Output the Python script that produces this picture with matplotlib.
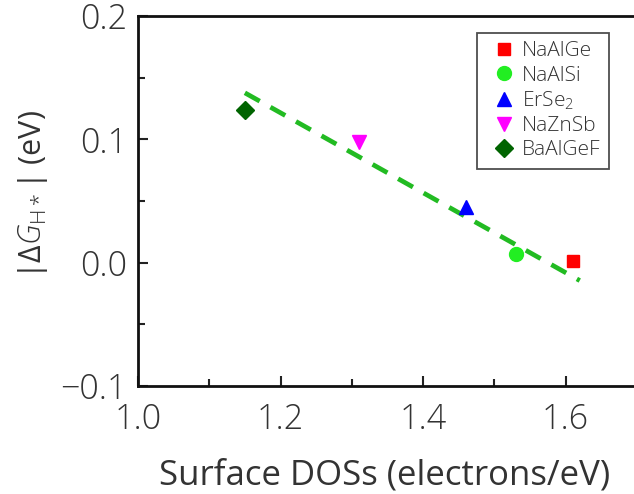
import matplotlib
matplotlib.use("Agg")
import matplotlib.pyplot as plt

plt.rcParams['font.family'] = ['Open Sans', 'DejaVu Sans']
plt.rcParams['font.weight'] = 'light'
plt.rcParams['mathtext.fontset'] = 'custom'
plt.rcParams['mathtext.rm'] = 'Open Sans:light'
plt.rcParams['mathtext.it'] = 'Open Sans:italic:light'

# Data
materials = ['NaAlGe', 'NaAlSi', 'ErSe$_2$', 'NaZnSb', 'BaAlGeF']
dos = [1.61, 1.53, 1.46, 1.31, 1.15]
dG = [0.001, 0.007, 0.045, 0.098, 0.124]
markers = ['s', 'o', '^', 'v', 'D']
colors = ['#FF0000', '#22EE22', '#0000FF', '#FF00FF', '#006400']
msizes = [9, 10, 10, 10, 9]

fit_x = [1.15, 1.62]
fit_y = [0.1377, -0.0145]

xticks = [1.0, 1.2, 1.4, 1.6]
yticks = [-0.1, 0.0, 0.1, 0.2]

fig = plt.figure(figsize=(6.34, 4.94), dpi=100)
ax = fig.add_axes([138/634, 1-386/494, 570/634, 370/494])

ax.plot(fit_x, fit_y, color='#22BB22', lw=3.4, dashes=(3.6, 2.6), zorder=2)
for m, x, y, mk, c, s in zip(materials, dos, dG, markers, colors, msizes):
    ax.plot([x], [y], linestyle='none', marker=mk, color=c, markersize=s,
            label=m, zorder=3)

ax.set_xlim(1.0, 1.8)
ax.set_ylim(-0.1, 0.2)
ax.set_xticks(xticks)
ax.set_xticklabels(['%.1f' % v for v in xticks])
ax.set_yticks(yticks)
ax.set_yticklabels(['\u22120.1', '0.0', '0.1', '0.2'])
ax.set_xticks([1.1, 1.3, 1.5, 1.7], minor=True)
ax.set_yticks([-0.05, 0.05, 0.15], minor=True)
ax.tick_params(which='major', direction='in', length=7, width=1.5,
               labelsize=24.5, colors='#222222', labelcolor='#333333')
ax.tick_params(axis='x', which='major', pad=12)
ax.tick_params(axis='y', which='major', pad=8)
ax.tick_params(which='minor', direction='in', length=5, width=1.5, colors='#222222')
for sp in ax.spines.values():
    sp.set_linewidth(2)
    sp.set_color('#111111')

ax.set_xlabel('Surface DOSs (electrons/eV)', fontsize=25, color='#333333')
ax.xaxis.set_label_coords((385 - 138) / 570, -0.195)
ax.xaxis.label.set_va('top')
ax.set_ylabel(r'|Δ$G_{\mathrm{H}*}$| (eV)', fontsize=22, color='#333333')
ax.yaxis.set_label_coords((50 - 138) / 570, (386 - 195) / 370)

leg = ax.legend(loc='upper left', bbox_to_anchor=((477-138)/570, 1-(33-16)/370),
                borderaxespad=0,
                fontsize=15, frameon=True, fancybox=False, edgecolor='#222222',
                handlelength=1.75, handletextpad=0.0, borderpad=0.4, labelspacing=0.2,
                markerscale=1.0)
leg.get_frame().set_linewidth(1.3)
for t in leg.get_texts():
    t.set_color('#333333')

fig.savefig('out.png', dpi=100)
